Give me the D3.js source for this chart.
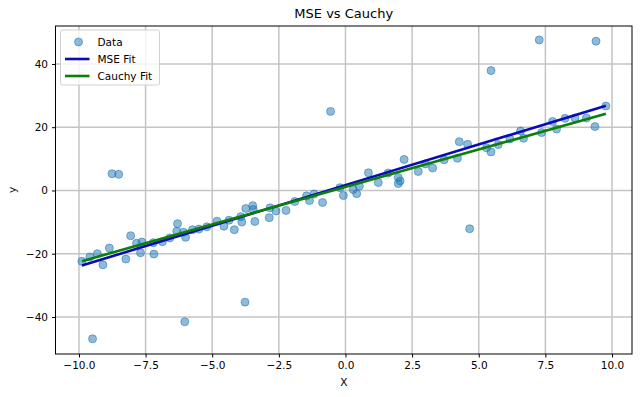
<!DOCTYPE html>
<html lang="en">
  <head>
    <meta charset="utf-8">
    <title>MSE vs Cauchy</title>
    <script src="https://cdn.jsdelivr.net/npm/d3@7"></script>
    <style>
      body { margin: 0; background: white; }
      text { font-family: "DejaVu Sans", sans-serif; fill: #000; }
      .grid line { stroke: #c4c4c4; stroke-width: 1.5px; }
      .dot { fill: #1f77b4; fill-opacity: 0.5; stroke: #1f77b4; stroke-opacity: 0.55; stroke-width: 1px; }
    </style>
  </head>
  <body>
    <script>
      // data
      var xs = [-9.89, -9.59, -9.31, -9.10, -8.86, -8.24, -8.06, -7.84, -7.64, -7.69,
                -7.19, -7.21, -6.87, -6.59, -6.30, -6.33, -6.08, -6.00, -5.74, -4.82,
                -4.56, -4.37, -4.17, -3.89, -3.93, -3.74, -3.48, -3.46, -3.40, -2.86,
                -2.83, -2.61, -2.23, -1.46, -1.35, -1.18, -0.86, -0.08, -0.21, 0.29,
                0.42, 0.52, 0.86, 1.23, 1.98, 1.98, 2.05, 2.20, 2.73, 3.27,
                3.70, 4.20, 4.27, 4.58, 5.29, 5.46, 5.73, 6.17, 6.57, 6.68,
                7.36, 7.77, 7.92, 8.24, 8.61, 9.04, 9.36, 9.77,
                -0.56, 7.27, 9.40, 5.46, -8.76, -8.51, -9.49, -6.03, -3.77, 4.66,
                -5.2, -1.9, 1.6, 3.0, -5.5];
      var ys = [-22.4, -21.0, -20.0, -23.5, -18.2, -21.7, -14.3, -16.7, -16.3, -19.7,
                -20.1, -16.5, -16.2, -15.0, -10.5, -12.9, -13.2, -14.8, -12.4, -9.7,
                -11.3, -9.4, -12.4, -10.0, -8.3, -5.7, -4.8, -6.0, -9.8, -8.6,
                -5.5, -6.5, -6.3, -1.7, -3.2, -1.1, -3.8, -1.6, 0.9, 0.3,
                -1.0, 1.4, 5.6, 2.5, 4.1, 2.2, 3.0, 9.8, 6.0, 7.1,
                9.7, 10.2, 15.4, 14.6, 13.5, 12.2, 14.5, 16.3, 18.8, 16.5,
                18.3, 21.8, 19.4, 22.8, 22.9, 22.9, 20.2, 26.7,
                25.0, 47.6, 47.2, 37.9, 5.3, 5.1, -46.9, -41.5, -35.3, -12.1,
                -11.5, -3.5, 5.5, 8.4, -12.2];

      // fitted lines: [slope, intercept]
      var mseFit = [2.57, 1.7];
      var cauchyFit = [2.37, 1.1];

      var xTicks = [-10, -7.5, -5, -2.5, 0, 2.5, 5, 7.5, 10];
      var yTicks = [-40, -20, 0, 20, 40];

      var margin = {top: 26, right: 8, bottom: 43, left: 55.5},
          width = 640 - margin.left - margin.right,
          height = 397 - margin.top - margin.bottom;

      var data = xs.map((x, i) => ({x: x, y: ys[i]}));

      var svg = d3.select("body")
                  .append("svg")
                  .attr("width", 640)
                  .attr("height", 397)
                  .append("g")
                    .attr("transform", "translate(" + margin.left + "," + margin.top + ")");

      var x = d3.scaleLinear()
                .domain([-10.88, 10.75])
                .range([0, width]);

      var y = d3.scaleLinear()
                .domain([-51.7, 52])
                .range([height, 0]);

      // grid
      svg.append("g")
         .attr("class", "grid")
         .selectAll("line.v")
         .data(xTicks)
         .enter()
         .append("line")
           .attr("x1", d => x(d)).attr("x2", d => x(d))
           .attr("y1", 0).attr("y2", height);

      svg.append("g")
         .attr("class", "grid")
         .selectAll("line.h")
         .data(yTicks)
         .enter()
         .append("line")
           .attr("y1", d => y(d)).attr("y2", d => y(d))
           .attr("x1", 0).attr("x2", width);

      // points
      svg.append("g")
         .selectAll("circle")
         .data(data)
         .enter()
         .append("circle")
           .attr("class", "dot")
           .attr("cx", d => x(d.x))
           .attr("cy", d => y(d.y))
           .attr("r", 4);

      // fit lines over the data range
      var xr = d3.extent(xs);
      var line = d3.line().x(d => x(d[0])).y(d => y(d[1]));

      svg.append("path")
         .datum(xr.map(v => [v, mseFit[0] * v + mseFit[1]]))
         .attr("d", line)
         .attr("fill", "none")
         .attr("stroke", "#0a0ab8")
         .attr("stroke-width", 2.6);

      svg.append("path")
         .datum(xr.map(v => [v, cauchyFit[0] * v + cauchyFit[1]]))
         .attr("d", line)
         .attr("fill", "none")
         .attr("stroke", "#0a800a")
         .attr("stroke-width", 2.6);

      // axes
      var xAxis = svg.append("g")
         .attr("transform", "translate(0," + height + ")")
         .call(d3.axisBottom(x).tickValues(xTicks).tickFormat(d3.format(".1f")).tickSizeOuter(0).tickSize(3.5).tickPadding(4));

      var yAxis = svg.append("g")
         .call(d3.axisLeft(y).tickValues(yTicks).tickFormat(d3.format("d")).tickSizeOuter(0).tickSize(3.5).tickPadding(4));

      [xAxis, yAxis].forEach(a => {
        a.selectAll("text").style("font-size", "10.5px").style("font-family", "DejaVu Sans");
        a.select(".domain").remove();
      });

      // frame
      svg.append("rect")
         .attr("width", width)
         .attr("height", height)
         .attr("fill", "none")
         .attr("stroke", "#000")
         .attr("stroke-width", 1);

      // labels
      svg.append("text")
         .attr("x", width / 2)
         .attr("y", -8)
         .attr("text-anchor", "middle")
         .style("font-size", "13px")
         .text("MSE vs Cauchy");

      svg.append("text")
         .attr("x", width / 2)
         .attr("y", height + 32)
         .attr("text-anchor", "middle")
         .style("font-size", "10.5px")
         .text("X");

      svg.append("text")
         .attr("transform", "translate(" + (-40) + "," + (height / 2) + ") rotate(-90)")
         .attr("text-anchor", "middle")
         .style("font-size", "10.5px")
         .text("y");

      // legend
      var lg = svg.append("g").attr("transform", "translate(5,4)");
      lg.append("rect")
        .attr("width", 99).attr("height", 55).attr("rx", 2)
        .attr("fill", "white").attr("fill-opacity", 0.8)
        .attr("stroke", "#d0d0d0");

      lg.append("circle").attr("class", "dot").attr("cx", 18).attr("cy", 12).attr("r", 4);
      lg.append("line").attr("x1", 4.5).attr("x2", 29).attr("y1", 29).attr("y2", 29)
        .attr("stroke", "#0a0ab8").attr("stroke-width", 2.6);
      lg.append("line").attr("x1", 4.5).attr("x2", 29).attr("y1", 46).attr("y2", 46)
        .attr("stroke", "#0a800a").attr("stroke-width", 2.6);

      var labels = ["Data", "MSE Fit", "Cauchy Fit"];
      lg.selectAll("text.lab")
        .data(labels)
        .enter()
        .append("text")
          .attr("x", 37)
          .attr("y", (d, i) => 12 + i * 17)
          .attr("dy", "0.35em")
          .style("font-size", "10.5px")
          .text(d => d);
    </script>
  </body>
</html>
